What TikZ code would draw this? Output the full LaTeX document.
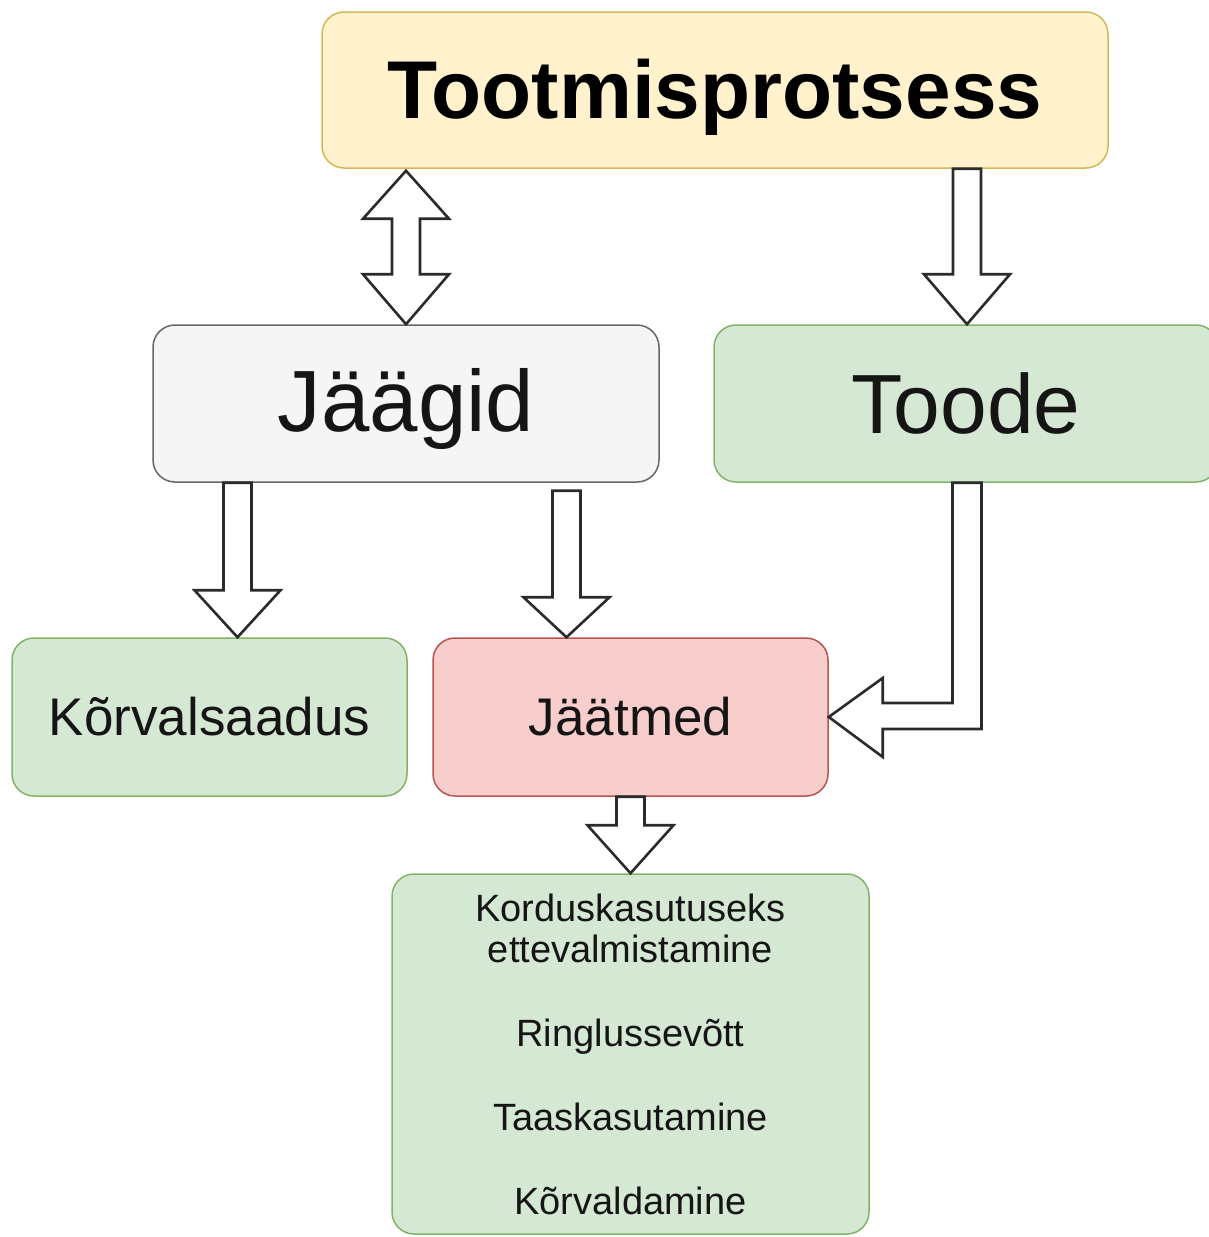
\documentclass[tikz,border=0pt]{standalone}
\usepackage{fontspec}
\setmainfont{Liberation Sans}
\usetikzlibrary{calc}
\definecolor{ylfill}{HTML}{FFF2CC}
\definecolor{ylline}{HTML}{D6B656}
\definecolor{gyfill}{HTML}{F5F5F5}
\definecolor{gyline}{HTML}{666666}
\definecolor{gnfill}{HTML}{D5E8D4}
\definecolor{gnline}{HTML}{82B366}
\definecolor{rdfill}{HTML}{F8CECC}
\definecolor{rdline}{HTML}{B85450}
\definecolor{arline}{HTML}{2B2B2B}
\definecolor{txt}{HTML}{151515}
\tikzset{
  box/.style={draw, rounded corners=22pt, line width=1.5pt, inner sep=0pt, align=center, text=txt},
  barrow/.style={draw=arline, fill=white, line width=2.6pt, line join=miter},
}
\newcommand\lowered[2]{\raisebox{-#1}[\height][\depth]{#2}}
\newcommand\blockdown[3][50]{%
  \draw[barrow] ($(#2)+(-14,0)$) -- ($(#2)+(14,0)$) -- ($(#2 |- #3)+(14,-#1)$) -- ($(#2 |- #3)+(43,-#1)$) -- (#2 |- #3) -- ($(#2 |- #3)+(-43,-#1)$) -- ($(#2 |- #3)+(-14,-#1)$) -- cycle;}
\begin{document}
\begin{tikzpicture}[x=1pt,y=-1pt]
\useasboundingbox (0,0) rectangle (1208,1237);
\node[box, fill=ylfill, draw=ylline, minimum width=786pt, minimum height=156pt, font=\fontsize{82}{90}\selectfont\bfseries, text=black] (top) at (715,90) {\lowered{7pt}{Tootmisprotsess}};
\node[box, fill=gyfill, draw=gyline, minimum width=506pt, minimum height=157pt, font=\fontsize{87}{94}\selectfont] (jaagid) at (406,403.5) {\lowered{6pt}{Jäägid}};
\node[box, fill=gnfill, draw=gnline, minimum width=504pt, minimum height=157pt, font=\fontsize{84}{92}\selectfont] (toode) at (966,403.5) {Toode};
\node[box, fill=gnfill, draw=gnline, minimum width=395pt, minimum height=158pt, font=\fontsize{53}{60}\selectfont] (korv) at (209.5,717) {Kõrvalsaadus};
\node[box, fill=rdfill, draw=rdline, minimum width=395pt, minimum height=158pt, font=\fontsize{53}{60}\selectfont] (jaatmed) at (630.5,717) {Jäätmed};
\node[box, fill=gnfill, draw=gnline, minimum width=477pt, minimum height=360pt, font=\fontsize{38}{41}\selectfont] (lopp) at (630.5,1054) {Korduskasutuseks\\ettevalmistamine\\[43pt]Ringlussevõtt\\[43pt]Taaskasutamine\\[43pt]Kõrvaldamine};
% double arrow top <-> jaagid
\coordinate (d1) at ($(jaagid.north |- top.south)+(0,2)$);
\coordinate (d2) at (jaagid.north);
\draw[barrow] (d1) -- ($(d1)+(43,48)$) -- ($(d1)+(14,48)$) -- ($(d2)+(14,-50)$) -- ($(d2)+(43,-50)$) -- (d2) -- ($(d2)+(-43,-50)$) -- ($(d2)+(-14,-50)$) -- ($(d1)+(-14,48)$) -- ($(d1)+(-43,48)$) -- cycle;
% top -> toode
\coordinate (t2) at ($(toode.north)+(1,0)$);
\coordinate (t1) at (top.south -| t2);
\blockdown{t1}{t2}
% jaagid -> korv
\coordinate (k2) at ($(korv.north)+(28,0)$);
\coordinate (k1) at (jaagid.south -| k2);
\blockdown[47]{k1}{k2}
% jaagid -> jaatmed
\coordinate (j2) at ($(jaatmed.north)+(-64,0)$);
\coordinate (j1) at ($(jaagid.south -| j2)+(0,8)$);
\blockdown[40]{j1}{j2}
% jaatmed -> lopp
\coordinate (l2) at (lopp.north);
\coordinate (l1) at (jaatmed.south -| l2);
\blockdown[48]{l1}{l2}
% toode -> jaatmed elbow
\coordinate (e0) at ($(toode.south)+(1,0)$);
\coordinate (e1) at (jaatmed.east);
\draw[barrow] ($(e0)+(-14.5,0)$) -- ($(e0)+(14.5,0)$) -- ($(e0 |- e1)+(14.5,12)$) -- ($(e1)+(54,12)$) -- ($(e1)+(54,40)$) -- (e1) -- ($(e1)+(54,-39)$) -- ($(e1)+(54,-14)$) -- ($(e0 |- e1)+(-14.5,-14)$) -- cycle;
\end{tikzpicture}
\end{document}
